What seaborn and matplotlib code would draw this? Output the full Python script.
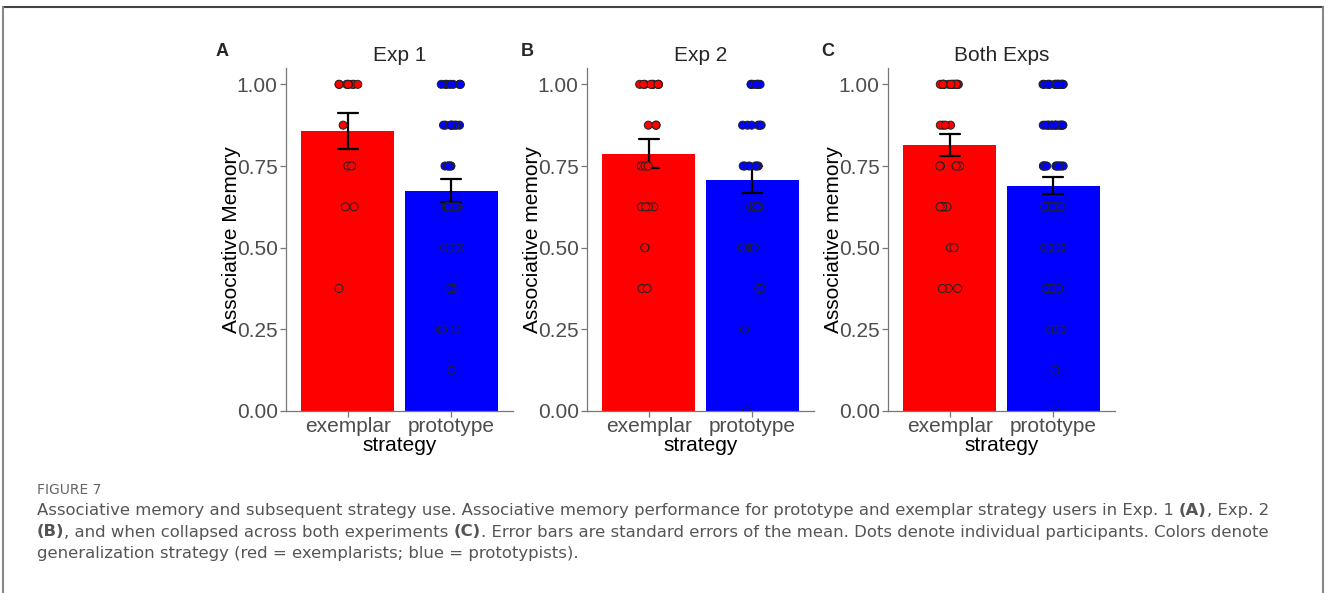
import numpy as np
import pandas as pd
import matplotlib
matplotlib.use("Agg")
import matplotlib.pyplot as plt
import seaborn as sns
from matplotlib.lines import Line2D
from matplotlib.ticker import FormatStrFormatter

# =====================================================
# Data: associative memory score per participant
# =====================================================
exp1_exemplar = [1.0, 1.0, 1.0, 1.0, 1.0, 1.0, 1.0, 1.0,
                 0.875, 0.75, 0.75, 0.625, 0.625, 0.375]
exp1_prototype = [1.0, 1.0, 1.0, 1.0, 1.0, 1.0, 1.0, 1.0,
                  0.875, 0.875, 0.875, 0.875, 0.875, 0.875, 0.875, 0.875,
                  0.75, 0.75, 0.75, 0.75, 0.75,
                  0.625, 0.625, 0.625, 0.625, 0.625, 0.625, 0.625, 0.625, 0.625,
                  0.5, 0.5, 0.5, 0.5, 0.5, 0.5, 0.5, 0.5,
                  0.375, 0.375, 0.375, 0.25, 0.25, 0.25, 0.125]
exp2_exemplar = [1.0, 1.0, 1.0, 1.0, 1.0, 1.0, 1.0, 1.0, 1.0,
                 0.875, 0.875, 0.875, 0.75, 0.75, 0.75,
                 0.625, 0.625, 0.625, 0.625, 0.5, 0.5, 0.375, 0.375]
exp2_prototype = [1.0, 1.0, 1.0, 1.0, 1.0, 1.0, 1.0, 1.0,
                  0.875, 0.875, 0.875, 0.875, 0.875, 0.875,
                  0.75, 0.75, 0.75, 0.75, 0.75, 0.75,
                  0.625, 0.625, 0.625, 0.625, 0.625, 0.625,
                  0.5, 0.5, 0.5, 0.5, 0.5, 0.5,
                  0.375, 0.375, 0.25, 0.0]

strategies = ["exemplar", "prototype"]
palette = {"exemplar": "#FF0000", "prototype": "#0000FF"}

panels = [
    ("A", "Exp 1", "Associative Memory", exp1_exemplar, exp1_prototype),
    ("B", "Exp 2", "Associative memory", exp2_exemplar, exp2_prototype),
    ("C", "Both Exps", "Associative memory",
     exp1_exemplar + exp2_exemplar, exp1_prototype + exp2_prototype),
]

caption_head = "FIGURE 7"
caption_lines = [
    [("Associative memory and subsequent strategy use. Associative memory performance "
      "for prototype and exemplar strategy users in Exp. 1 ", False),
     ("(A)", True), (", Exp. 2", False)],
    [("(B)", True), (", and when collapsed across both experiments ", False),
     ("(C)", True),
     (". Error bars are standard errors of the mean. Dots denote individual participants. "
      "Colors denote", False)],
    [("generalization strategy (red = exemplarists; blue = prototypists).", False)],
]

# =====================================================
# Figure
# =====================================================
sns.set_theme(style="ticks")
plt.rcParams["font.family"] = ["Liberation Sans", "DejaVu Sans"]

W, H = 1327, 593
fig = plt.figure(figsize=(W / 100, H / 100), dpi=100)
fig.patch.set_facecolor("white")

axes_left = [286, 587, 888]
AX_W, AX_TOP, AX_BOT = 227, 68, 411
letter_x = [222, 527, 828]

np.random.seed(7)
for (letter, title, ylab, ex, pr), left, lx in zip(panels, axes_left, letter_x):
    df = pd.DataFrame({
        "strategy": ["exemplar"] * len(ex) + ["prototype"] * len(pr),
        "memory": ex + pr,
    })
    ax = fig.add_axes([left / W, 1 - AX_BOT / H, AX_W / W, (AX_BOT - AX_TOP) / H])
    sns.barplot(data=df, x="strategy", y="memory", hue="strategy", order=strategies,
                palette=palette, saturation=1, width=0.9, errorbar="se",
                capsize=0.2, err_kws={"color": "black", "linewidth": 1.6},
                linewidth=0, legend=False, ax=ax)
    sns.stripplot(data=df, x="strategy", y="memory", hue="strategy", order=strategies,
                  palette=palette, jitter=0.1, size=5.8, linewidth=0.7,
                  edgecolor="#222222", legend=False, zorder=4, ax=ax)

    ax.set_xlim(-0.6, 1.6)
    ax.set_ylim(0, 1.05)
    ax.set_yticks([0, 0.25, 0.5, 0.75, 1.0])
    ax.yaxis.set_major_formatter(FormatStrFormatter("%.2f"))
    sns.despine(ax=ax)
    for side in ["left", "bottom"]:
        ax.spines[side].set_color("#777777")
        ax.spines[side].set_linewidth(0.9)
    ax.tick_params(labelsize=15, labelcolor="#4D4D4D", color="#777777",
                   length=4, width=0.9, pad=2)
    ax.tick_params(axis="x", pad=0)
    ax.set_xlabel("strategy", fontsize=15, color="black", labelpad=0)
    ax.set_ylabel(ylab, fontsize=15, color="black")
    ax.yaxis.set_label_coords(-0.2, 0.5)
    ax.set_title(title, fontsize=15, pad=5)

    fig.text(lx / W, 1 - 51 / H, letter, fontsize=13, fontweight="bold",
             ha="center", va="center")

# =====================================================
# Caption
# =====================================================
renderer = fig.canvas.get_renderer()
cap_font = ["DejaVu Sans"]
cap_color = "#555555"
CAP_X = 37


def run_width(text, bold, size):
    a = fig.text(0, 0, "|" + text + "|", fontsize=size, family=cap_font,
                 fontweight="bold" if bold else "normal")
    b = fig.text(0, 0, "||", fontsize=size, family=cap_font,
                 fontweight="bold" if bold else "normal")
    w = a.get_window_extent(renderer).width - b.get_window_extent(renderer).width
    a.remove()
    b.remove()
    return w


# fit first caption line to the width it has in the original (x 37 -> 1271)
base = 11.0
w0 = sum(run_width(t, b, base) for t, b in caption_lines[0])
cap_size = base * 1234 / w0

fig.text(CAP_X / W, 1 - 494 / H, caption_head, fontsize=10, family=cap_font,
         color="#666666", va="baseline")
for i, runs in enumerate(caption_lines):
    x = CAP_X
    y = 515 + i * 21.5
    for text, bold in runs:
        fig.text(x / W, 1 - y / H, text, fontsize=cap_size, family=cap_font,
                 fontweight="bold" if bold else "normal", color=cap_color,
                 va="baseline", ha="left")
        x += run_width(text, bold, cap_size)

# frame around the figure
fig.add_artist(Line2D([3 / W, 1323 / W], [1 - 7 / H, 1 - 7 / H],
                      transform=fig.transFigure, color="#444444", lw=1.5))
for xx in [3, 1323]:
    fig.add_artist(Line2D([xx / W, xx / W], [0, 1 - 7 / H],
                          transform=fig.transFigure, color="#888888", lw=1.5))

fig.savefig("out.png", dpi=100)
